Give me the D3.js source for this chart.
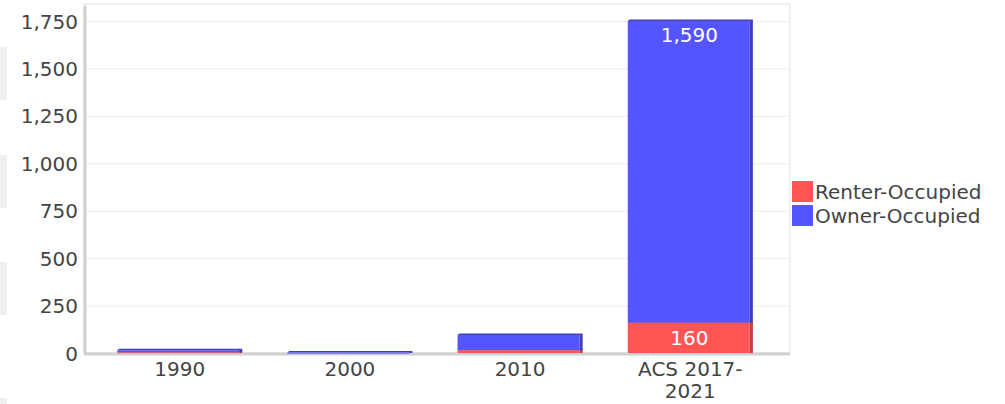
<!DOCTYPE html>
<html>
<head>
<meta charset="utf-8">
<script src="https://cdn.jsdelivr.net/npm/d3@7"></script>
<style>
  body { margin: 0; background: #fff; }
  text { font-family: "DejaVu Sans", sans-serif; }
</style>
</head>
<body>
<script>
// chart data
const categories = ['1990', '2000', '2010', 'ACS 2017-2021']
const renter = [4, 0, 15, 160]
const owner = [10, 2, 80, 1590]
const yTicks = [0, 250, 500, 750, 1000, 1250, 1500, 1750]
const seriesNames = ['Renter-Occupied', 'Owner-Occupied']
const colors = {renter: '#ff5555', owner: '#5555ff'}
const sideColors = {renter: '#c04242', owner: '#4040b8'}

const W = 1005, H = 404
const plot = {left: 84, right: 790, top: 4, bottom: 353}
const fs = 20

const svg = d3.select('body').append('svg')
  .attr('width', W)
  .attr('height', H)

// faint grey boxes on the far left edge
svg.selectAll('rect.edge').data([[47, 100], [155, 208], [262, 315], [398, 404]]).join('rect')
  .attr('class', 'edge')
  .attr('x', 0).attr('width', 7)
  .attr('y', d => d[0]).attr('height', d => d[1] - d[0])
  .attr('fill', '#efefef')

const x = d3.scaleBand().domain(categories).range([95, 775]).paddingInner(0.265).paddingOuter(0.13)
const y = d3.scaleLinear().domain([0, 1750]).range([plot.bottom, 21])

// plot frame
svg.append('rect')
  .attr('x', plot.left).attr('y', plot.top)
  .attr('width', plot.right - plot.left).attr('height', plot.bottom - plot.top)
  .attr('fill', 'none').attr('stroke', '#e0e0e0')

// gridlines
svg.append('g').selectAll('line').data(yTicks.slice(1)).join('line')
  .attr('x1', plot.left).attr('x2', plot.right)
  .attr('y1', d => y(d) + 0.5).attr('y2', d => y(d) + 0.5)
  .attr('stroke', '#ececec')

// y axis labels
const yaxis = d3.axisLeft(y).tickValues(yTicks).tickFormat(d3.format(',')).tickSize(0).tickPadding(4)
const gy = svg.append('g').attr('transform', `translate(${plot.left - 2},0)`).call(yaxis)
gy.select('.domain').remove()
gy.selectAll('text').attr('font-size', fs).attr('fill', '#444').attr('dy', '0.35em')

// axis lines with light shadow
svg.append('line').attr('x1', plot.left + 1).attr('x2', plot.left + 1)
  .attr('y1', plot.top + 2).attr('y2', plot.bottom).attr('stroke', '#d0d0d0').attr('stroke-width', 3)
svg.append('line').attr('x1', plot.left).attr('x2', plot.right)
  .attr('y1', plot.bottom + 1).attr('y2', plot.bottom + 1).attr('stroke', '#d0d0d0').attr('stroke-width', 3)

// stacked data
const rows = categories.map((c, i) => ({cat: c, renter: renter[i], owner: owner[i]}))
const stack = d3.stack().keys(['renter', 'owner'])(rows)

const depth = 3
const layers = svg.append('g').selectAll('g').data(stack).join('g')

layers.each(function (layer) {
  const key = layer.key
  const g = d3.select(this)
  const segs = layer.filter(d => d[1] - d[0] > 0)
  // darker side (3d effect)
  g.selectAll('path.side').data(segs).join('path')
    .attr('class', 'side')
    .attr('fill', sideColors[key])
    .attr('d', d => {
      const x0 = x(d.data.cat), x1 = x0 + x.bandwidth()
      const yt = y(d[1]), yb = y(d[0])
      return `M${x0},${yt} L${x0 + depth - 1},${yt - 1.5} L${x1},${yt - 1.5} L${x1},${yb} L${x1 - depth},${yb} L${x1 - depth},${yt} Z`
    })
  g.selectAll('rect').data(segs).join('rect')
    .attr('x', d => x(d.data.cat))
    .attr('y', d => y(d[1]))
    .attr('width', x.bandwidth() - depth)
    .attr('height', d => Math.max(1, y(d[0]) - y(d[1])))
    .attr('fill', colors[key])
})

// value labels on the ACS bar
const last = rows.length - 1
svg.append('text')
  .attr('x', x(categories[last]) + x.bandwidth() / 2 - 1)
  .attr('y', y(stack[0][last][1]) + (y(stack[0][last][0]) - y(stack[0][last][1])) / 2)
  .attr('dy', '0.35em').attr('text-anchor', 'middle')
  .attr('font-size', fs).attr('fill', '#fff')
  .text(d3.format(',')(renter[last]))
svg.append('text')
  .attr('x', x(categories[last]) + x.bandwidth() / 2 - 1)
  .attr('y', y(stack[1][last][1]) + 14)
  .attr('dy', '0.35em').attr('text-anchor', 'middle')
  .attr('font-size', fs).attr('fill', '#fff')
  .text(d3.format(',')(owner[last]))

// x labels (wrap the long one)
const xl = svg.append('g').selectAll('text').data(categories).join('text')
  .attr('text-anchor', 'middle')
  .attr('font-size', fs).attr('fill', '#444')
  .attr('x', d => x(d) + x.bandwidth() / 2)
  .attr('y', 376)
xl.each(function (d) {
  const t = d3.select(this)
  const parts = d === 'ACS 2017-2021' ? ['ACS 2017-', '2021'] : [d]
  parts.forEach((p, i) => {
    t.append('tspan').attr('x', x(d) + x.bandwidth() / 2).attr('dy', i === 0 ? 0 : 22).text(p)
  })
})

// legend
const legend = svg.append('g').attr('transform', 'translate(792,181)')
const li = legend.selectAll('g').data(seriesNames).join('g')
  .attr('transform', (d, i) => `translate(0,${i * 24})`)
li.append('rect').attr('width', 21).attr('height', 21)
  .attr('fill', (d, i) => i === 0 ? colors.renter : colors.owner)
li.append('text').attr('x', 23).attr('y', 11).attr('dy', '0.35em')
  .attr('font-size', fs).attr('fill', '#444')
  .text(d => d)
</script>
</body>
</html>
